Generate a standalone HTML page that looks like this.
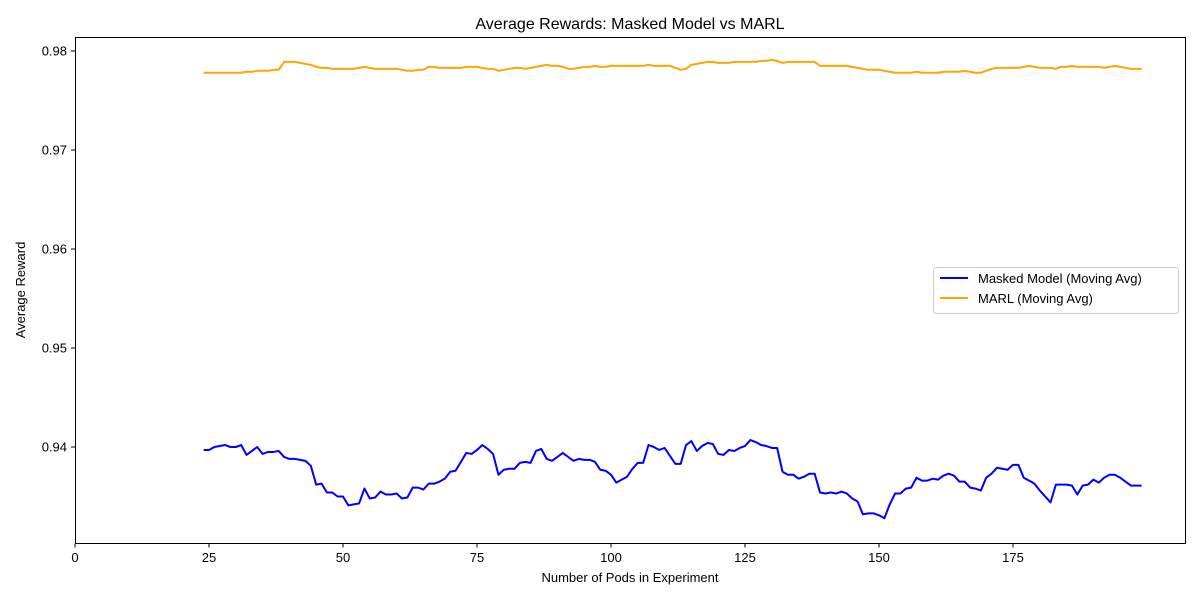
<!DOCTYPE html>
<html><head><meta charset="utf-8"><style>
body{margin:0;background:#fff;}
svg{display:block;font-family:"Liberation Sans","DejaVu Sans",sans-serif;}
</style></head><body>
<svg id="chart" width="1200" height="600">
<text x="630" y="29" font-size="16" text-anchor="middle" fill="#000">Average Rewards: Masked Model vs MARL</text>
<text x="630" y="582" font-size="13" text-anchor="middle">Number of Pods in Experiment</text>
<text x="25" y="290" font-size="13" text-anchor="middle" transform="rotate(-90 25 290)">Average Reward</text>
<g id="axes"></g>
<g id="series"></g>
<rect x="75.5" y="37.5" width="1110" height="506" fill="none" stroke="#000" stroke-width="1"/>
<g>
<rect x="933.5" y="267.5" width="245" height="46" rx="3" fill="#fff" stroke="#ccc"/>
<line x1="940" y1="278" x2="968" y2="278" stroke="#0000ff" stroke-width="2"/>
<text x="978" y="283" font-size="13">Masked Model (Moving Avg)</text>
<line x1="940" y1="298" x2="968" y2="298" stroke="#ffa500" stroke-width="2"/>
<text x="978" y="303" font-size="13">MARL (Moving Avg)</text>
</g>
</svg>
<script>
const startPod = 24;
const xTicks = [0, 25, 50, 75, 100, 125, 150, 175];
const yTicks = [0.94, 0.95, 0.96, 0.97, 0.98];
const maskedValues = [.9397,.9397,.9400,.9401,.9402,.9400,.9400,.9402,.9392,.9396,
.9400,.9393,.9395,.9395,.9396,.9390,.9388,.9388,.9387,.9386,
.9381,.9362,.9363,.9354,.9354,.9350,.9350,.9341,.9342,.9343,
.9358,.9348,.9349,.9355,.9352,.9352,.9353,.9348,.9349,.9359,
.9359,.9357,.9363,.9363,.9365,.9368,.9375,.9376,.9385,.9394,
.9393,.9397,.9402,.9398,.9393,.9372,.9377,.9378,.9378,.9384,
.9385,.9384,.9396,.9398,.9388,.9386,.9390,.9394,.9390,.9386,
.9388,.9387,.9387,.9385,.9377,.9376,.9372,.9364,.9367,.9370,
.9378,.9384,.9384,.9402,.9400,.9397,.9399,.9391,.9383,.9383,
.9402,.9406,.9396,.9401,.9404,.9403,.9393,.9392,.9397,.9396,
.9399,.9401,.9407,.9405,.9402,.9401,.9399,.9399,.9375,.9372,
.9372,.9368,.9370,.9373,.9373,.9354,.9353,.9354,.9353,.9355,
.9353,.9348,.9345,.9332,.9333,.9333,.9331,.9328,.9342,.9353,
.9353,.9358,.9359,.9369,.9366,.9366,.9368,.9367,.9371,.9373,
.9371,.9365,.9365,.9359,.9358,.9356,.9369,.9373,.9379,.9378,
.9377,.9382,.9382,.9369,.9366,.9363,.9356,.9350,.9344,.9362,
.9362,.9362,.9361,.9352,.9361,.9362,.9367,.9364,.9369,.9372,
.9372,.9369,.9365,.9361,.9361,.9361];
const marlValues = [.9778,.9778,.9778,.9778,.9778,.9778,.9778,.9778,
.9779,.9779,.9780,.9780,.9780,.9781,.9781,
.9789,.9789,.9789,.9788,
.9787,.9786,.9784,.9783,.9783,.9782,
.9782,.9782,.9782,.9782,
.9783,.9784,.9783,.9782,
.9782,.9782,.9782,.9782,
.9781,.9780,.9780,.9781,.9781,
.9784,.9784,.9783,
.9783,.9783,.9783,.9783,
.9784,.9784,.9784,.9783,.9782,.9782,
.9780,.9781,.9782,.9783,.9783,.9782,.9783,
.9784,.9785,.9786,.9785,.9785,.9784,
.9782,.9782,.9783,.9784,.9784,.9785,.9784,.9784,
.9785,.9785,.9785,.9785,.9785,.9785,.9785,
.9786,
.9785,.9785,.9785,.9785,
.9783,.9781,.9782,
.9786,.9787,.9788,.9789,.9789,
.9788,.9788,.9788,
.9789,.9789,.9789,.9789,.9789,
.9790,.9790,.9791,.9790,
.9788,
.9789,.9789,.9789,.9789,.9789,.9789,
.9785,.9785,.9785,.9785,.9785,.9785,
.9784,.9783,.9782,.9781,.9781,.9781,
.9780,.9779,
.9778,.9778,.9778,.9778,
.9779,
.9778,.9778,.9778,.9778,
.9779,.9779,.9779,.9779,
.9780,.9779,.9778,.9778,
.9780,.9782,.9783,.9783,.9783,.9783,.9783,
.9784,.9785,.9784,
.9783,.9783,.9783,.9782,
.9784,.9784,.9785,
.9784,.9784,.9784,.9784,.9784,
.9783,.9784,.9785,.9784,.9783,
.9782,.9782,.9782];

const NS = "http://www.w3.org/2000/svg";
const X0 = 75, PX_PER_POD = 5.36;
const Y_REF = 447, V_REF = 0.94, PX_PER_UNIT = 9900;
function xs(v){ return X0 + v * PX_PER_POD; }
function ys(v){ return Y_REF - (v - V_REF) * PX_PER_UNIT; }

const axes = document.getElementById('axes');
xTicks.forEach(t => {
  const x = xs(t);
  const l = document.createElementNS(NS,'line');
  l.setAttribute('x1',x); l.setAttribute('x2',x); l.setAttribute('y1',543.5); l.setAttribute('y2',547.5);
  l.setAttribute('stroke','#000');
  
  
  axes.appendChild(l);
  const tx = document.createElementNS(NS,'text');
  tx.setAttribute('x',x); tx.setAttribute('y',562); tx.setAttribute('font-size','13'); tx.setAttribute('text-anchor','middle');
  tx.textContent = t;
  
  
  axes.appendChild(tx);
});
yTicks.forEach(t => {
  const y = ys(t);
  const l = document.createElementNS(NS,'line');
  l.setAttribute('x1',71); l.setAttribute('x2',75.5); l.setAttribute('y1',y); l.setAttribute('y2',y);
  l.setAttribute('stroke','#000');
  
  
  axes.appendChild(l);
  const tx = document.createElementNS(NS,'text');
  tx.setAttribute('x',67); tx.setAttribute('y',y+4.5); tx.setAttribute('font-size','13'); tx.setAttribute('text-anchor','end');
  tx.textContent = t.toFixed(2);
  
  
  axes.appendChild(tx);
});

const series = document.getElementById('series');
function drawLine(vals, color, name){
  const pts = vals.map((v,i) => xs(startPod + i).toFixed(2) + ',' + ys(v).toFixed(2)).join(' ');
  const p = document.createElementNS(NS,'polyline');
  p.setAttribute('points', pts);
  p.setAttribute('fill','none'); p.setAttribute('stroke',color); p.setAttribute('stroke-width','2');
  p.setAttribute('stroke-linejoin','round');
  
  
  series.appendChild(p);
}
drawLine(maskedValues, '#0000ff', 'masked-model-line');
drawLine(marlValues, '#ffa500', 'marl-line');
</script>
</body></html>
